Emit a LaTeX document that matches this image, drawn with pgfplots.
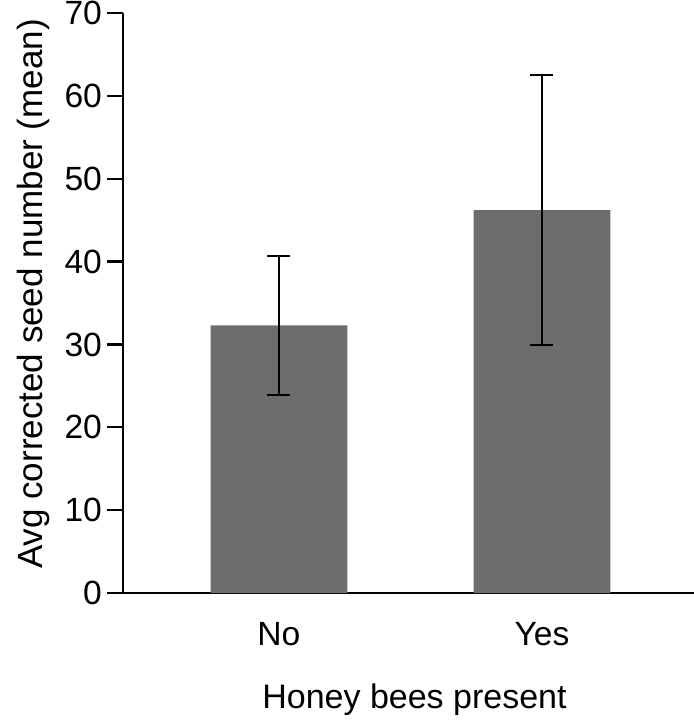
\documentclass[border=0pt]{standalone}
\usepackage{fontspec}
\setmainfont{Liberation Sans}
\usepackage{pgfplots}
\pgfplotsset{compat=1.18}

\definecolor{bargray}{HTML}{6D6D6D}

\begin{document}
\begin{tikzpicture}
\useasboundingbox (-61.5pt,-66pt) rectangle (285.5pt,296.5pt);
\begin{axis}[
  scale only axis,
  width=285.5pt, height=290pt,
  at={(0,0)}, anchor=south west,
  xmin=-0.593, xmax=1.578,
  ymin=0, ymax=70,
  axis x line*=bottom, axis y line*=left,
  axis line style={line width=1.2pt, black},
  xtick={0,1}, xticklabels={No,Yes},
  x tick style={draw=none},
  ytick={0,10,...,70},
  y tick style={line width=1.2pt, black},
  tick align=outside,
  major tick length=8pt,
  /pgf/number format/assume math mode=true,
  tick label style={font=\fontsize{16.8}{18}\selectfont},
  xlabel={Honey bees present},
  ylabel={Avg corrected seed number (mean)},
  xlabel style={font=\fontsize{17}{19}\selectfont,
    at={(axis description cs:0.5105,0)}, anchor=center, yshift=-53.5pt},
  ylabel style={font=\fontsize{17.5}{19}\selectfont,
    at={(axis description cs:-0.1576,0.5155)}, anchor=center},
  xticklabel style={yshift=-3pt},
  yticklabel style={xshift=1pt},
  clip=false,
]
\addplot[ybar, bar width=0.52, fill=bargray, draw=none,
  error bars/.cd,
    y dir=both, y explicit,
    error bar style={line width=1pt, black},
    error mark options={rotate=90, mark size=5.75pt, line width=1pt, black},
] coordinates {
  (0,32.3) +- (0,8.4)
  (1,46.2) +- (0,16.3)
};
\end{axis}
\end{tikzpicture}
\end{document}
